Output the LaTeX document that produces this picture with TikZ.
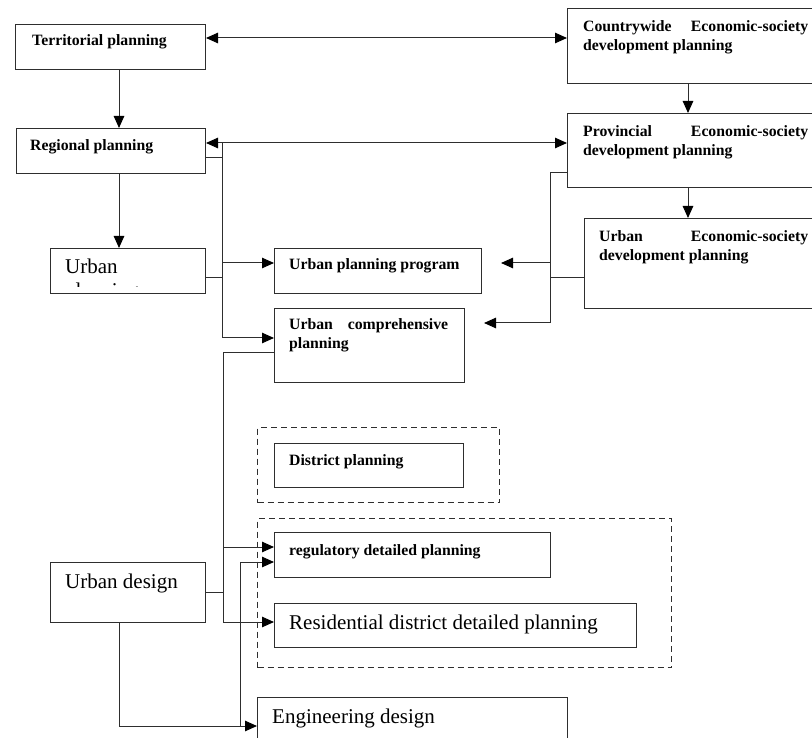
\documentclass[tikz,border=0pt]{standalone}
\usepackage{fontspec}
\setmainfont{Liberation Serif}
\usetikzlibrary{arrows.meta}
\definecolor{linec}{HTML}{2E2E2E}
% one justified line of a given width (in pt)
\newcommand\JustLine[3]{\hbox to #1pt{#2\hfill #3}}
\begin{document}
\begin{tikzpicture}[x=1pt,y=-1pt,
  box/.style={draw=linec, line width=1pt, rectangle, inner sep=0pt, anchor=north west},
  dbox/.style={draw=linec, line width=1.3pt, dash pattern=on 6pt off 4pt, rectangle, inner sep=0pt, anchor=north west},
  small/.style={anchor=base west, inner sep=0pt, font=\fontsize{15.75}{19}\selectfont\bfseries},
  big/.style={anchor=base west, inner sep=0pt, font=\fontsize{21}{24}\selectfont},
  conn/.style={draw=linec, line width=1pt},
  tip/.tip={Triangle[length=12pt,width=10.5pt,color=black,fill=black]},
  arr/.style={conn, -tip},
  darr/.style={conn, tip-tip},
]
\useasboundingbox (0,0) rectangle (812,738);
\clip (0,0) rectangle (812,738);
\fill[white] (0,0) rectangle (812,738);

% ---- boxes ----
\node[box, minimum width=190pt, minimum height=45pt] (terr) at (15,24) {};
\node[box, minimum width=189pt, minimum height=45pt] (reg) at (16,128) {};
\node[box, minimum width=155pt, minimum height=45pt] (urban) at (50,248) {};
\node[box, minimum width=155pt, minimum height=60pt] (udesign) at (50,562) {};
\node[box, minimum width=260pt, minimum height=75pt] (country) at (567,8) {};
\node[box, minimum width=260pt, minimum height=74pt] (prov) at (567,113) {};
\node[box, minimum width=240pt, minimum height=90pt] (uec) at (584,218) {};
\node[box, minimum width=207pt, minimum height=45pt] (upp) at (274,248) {};
\node[box, minimum width=190pt, minimum height=74pt] (ucp) at (274,308) {};
\node[dbox, minimum width=242pt, minimum height=75pt] (grpA) at (257,427) {};
\node[box, minimum width=189pt, minimum height=44pt] (dist) at (274,443) {};
\node[dbox, minimum width=414pt, minimum height=149pt] (grpB) at (257,518) {};
\node[box, minimum width=276pt, minimum height=45pt] (regd) at (274,532) {};
\node[box, minimum width=362pt, minimum height=44pt] (res) at (274,603) {};
\node[box, minimum width=310pt, minimum height=60pt] (eng) at (257,697) {};

% ---- texts ----
\node[small] (tTerr) at (32,46) {Territorial planning};
\node[small] (tReg) at (30,151) {Regional planning};
\node[big] (tUrban) at (65,274) {Urban};
\begin{scope}
  \clip (50,248) rectangle (205,286.5);
  \node[big] (tUrbanB) at (65,298) {planning};
\end{scope}
\node[big] (tUd) at (65,588) {Urban design};
\node[small] (tCountry) at (583,32) {\vtop{\JustLine{225}{Countrywide}{Economic-society}\hbox{development planning}}};
\node[small] (tProv) at (583,137) {\vtop{\JustLine{225}{Provincial}{Economic-society}\hbox{development planning}}};
\node[small] (tUec) at (599,242) {\vtop{\JustLine{209}{Urban}{Economic-society}\hbox{development planning}}};
\node[small] (tUpp) at (289,270) {Urban planning program};
\node[small] (tUcp) at (289,330) {\vtop{\JustLine{159}{Urban}{comprehensive}\hbox{planning}}};
\node[small] (tDist) at (289,465) {District planning};
\node[small] (tRegd) at (289,555) {regulatory detailed planning};
\node[big] (tRes) at (289,629) {Residential district detailed planning};
\node[big] (tEng) at (272,723) {Engineering design};

% ---- guide columns for the connectors ----
\coordinate (colL) at (119,0);
\coordinate (busA) at (222,0);
\coordinate (busC) at (223,0);
\coordinate (colE) at (240,726);
\coordinate (busB) at (550,0);
\coordinate (colR) at (688,0);

% ---- connectors ----
\draw[darr] (terr.east |- 0,38) -- (country.west |- 0,38);
\draw[darr] (reg.east |- 0,143) -- (prov.west |- 0,143);
\draw[arr] (terr.south -| colL) -- (reg.north -| colL);
\draw[arr] (reg.south -| colL) -- (urban.north -| colL);
\draw[arr] (country.south -| colR) -- (prov.north -| colR);
\draw[arr] (prov.south -| colR) -- (uec.north -| colR);

% left bus to the urban planning boxes
\draw[conn] (reg.east |- 0,158) -- (busA |- 0,158);
\draw[conn] (urban.east |- 0,278) -- (busA |- 0,278);
\draw[conn] (busA |- 0,143) -- (busA |- 0,338);
\draw[arr] (busA |- 0,263) -- (upp.west |- 0,263);
\draw[arr] (busA |- 0,338) -- (ucp.west |- 0,338);

% right bus from the economic-society plans
\draw[arr, shorten >=19pt] (prov.west |- 0,173) -| (busB |- 0,323) -- (ucp.east |- 0,323);
\draw[conn] (uec.west |- 0,278) -- (busB |- 0,278);
\draw[arr, shorten >=19pt] (busB |- 0,263) -- (upp.east |- 0,263);

% bus to the detailed planning boxes
\draw[arr] (ucp.west |- 0,353) -| (busC |- 0,622) -- (res.west |- 0,622);
\draw[conn] (udesign.east |- 0,592) -- (busC |- 0,592);
\draw[arr] (busC |- 0,547) -- (regd.west |- 0,547);

% urban design to engineering design, with a branch to regulatory planning
\draw[arr] (udesign.south -| colL) -- (colL |- 0,726) -- (eng.west |- 0,726);
\draw[arr] (colE) -- (colE |- 0,562) -- (regd.west |- 0,562);
\end{tikzpicture}
\end{document}
